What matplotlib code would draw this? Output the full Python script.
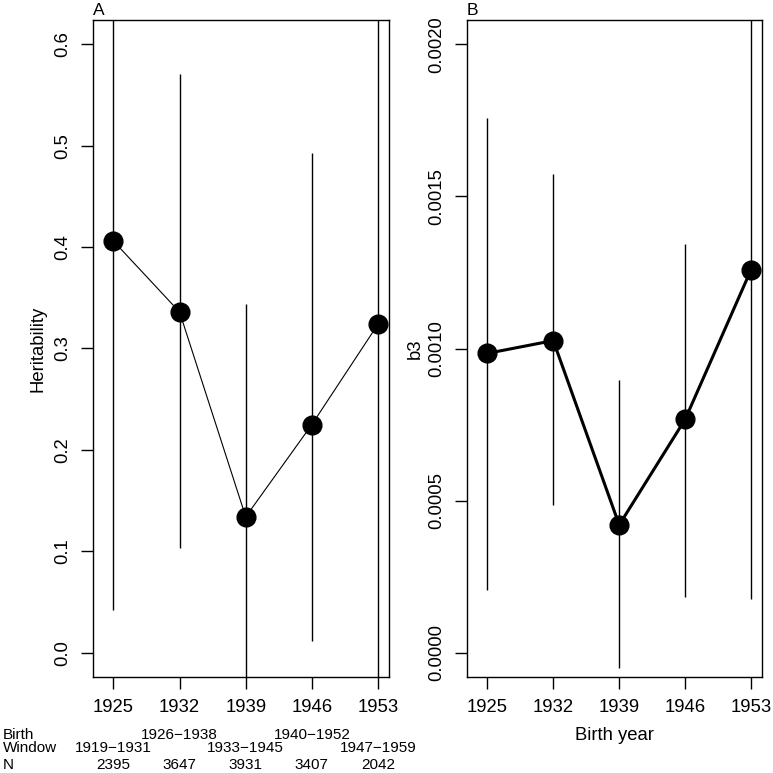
import matplotlib
matplotlib.use("Agg")
import matplotlib.pyplot as plt
from matplotlib.transforms import blended_transform_factory

plt.rcParams['font.family'] = ['Liberation Sans', 'DejaVu Sans']

years = [1925, 1932, 1939, 1946, 1953]
year_labels = ["1925", "1932", "1939", "1946", "1953"]

herit = [0.406, 0.336, 0.134, 0.225, 0.324]
herit_lo = [0.042, 0.103, -0.10, 0.012, -0.10]
herit_hi = [0.70, 0.571, 0.344, 0.493, 0.70]

b3 = [0.000984, 0.001026, 0.000420, 0.000767, 0.001259]
b3_lo = [0.000207, 0.000485, -0.000049, 0.000184, 0.000177]
b3_hi = [0.001757, 0.001574, 0.000895, 0.001344, 0.0025]

windows = ["1919\u22121931", "1926\u22121938", "1933\u22121945", "1940\u22121952", "1947\u22121959"]
counts = ["2395", "3647", "3931", "3407", "2042"]

W = 773
fig = plt.figure(figsize=(7.73, 7.73), dpi=100)
axA = fig.add_axes([93 / W, 96 / W, 296 / W, 657 / W])
axB = fig.add_axes([467 / W, 96 / W, 295 / W, 657 / W])

def style(ax):
    for s in ax.spines.values():
        s.set_linewidth(1.0)
    ax.tick_params(axis='both', length=8.6, width=1.0, labelsize=13.3, direction='out')
    ax.tick_params(axis='x', pad=7)
    ax.tick_params(axis='y', pad=7, labelrotation=90)
    for lab in ax.get_yticklabels():
        lab.set_va('center')
    ax.set_xticks(years)
    ax.set_xticklabels(year_labels)
    ax.set_xlim(1922.84, 1954.16)

# Panel A
axA.vlines(years, herit_lo, herit_hi, colors='black', linewidth=1.0, zorder=1)
axA.plot(years, herit, color='black', linewidth=0.8, zorder=2)
axA.plot(years, herit, 'o', color='black', markersize=13.5, zorder=3)
axA.set_ylim(-0.024, 0.624)
axA.set_yticks([0.0, 0.1, 0.2, 0.3, 0.4, 0.5, 0.6])
axA.set_yticklabels(["0.0", "0.1", "0.2", "0.3", "0.4", "0.5", "0.6"])
style(axA)
axA.set_ylabel("Heritability", fontsize=13.3, va='center')
axA.yaxis.set_label_coords(-55 / 296, 0.5)
axA.text(0, 1.003, "A", transform=axA.transAxes, ha='left', va='bottom', fontsize=12.5)

# Panel B
axB.vlines(years, b3_lo, b3_hi, colors='black', linewidth=1.0, zorder=1)
axB.plot(years, b3, color='black', linewidth=2.2, zorder=2)
axB.plot(years, b3, 'o', color='black', markersize=13.5, zorder=3)
axB.set_ylim(-0.00008, 0.00208)
axB.set_yticks([0.0, 0.0005, 0.0010, 0.0015, 0.0020])
axB.set_yticklabels(["0.0000", "0.0005", "0.0010", "0.0015", "0.0020"])
style(axB)
axB.set_ylabel("b3", fontsize=13.3, va='center')
axB.yaxis.set_label_coords(-52 / 295, 0.5)
axB.set_xlabel("Birth year", fontsize=13.3)
axB.xaxis.set_label_coords(0.5, -(735 - 677) / 657)
axB.xaxis.label.set_va('center')
axB.text(0, 1.003, "B", transform=axB.transAxes, ha='left', va='bottom', fontsize=12.5)

# Table beneath panel A
tr = blended_transform_factory(axA.transData, fig.transFigure)
ys = {"Birth": 1 - 739 / W, "Window": 1 - 752 / W, "N": 1 - 769 / W}
tfs = 11
fig.text(3 / W, ys["Birth"], "Birth", ha='left', va='baseline', fontsize=tfs)
fig.text(3 / W, ys["Window"], "Window", ha='left', va='baseline', fontsize=tfs)
fig.text(3 / W, ys["N"], "N", ha='left', va='baseline', fontsize=tfs)
for i, (yr, w, n) in enumerate(zip(years, windows, counts)):
    yrow = ys["Window"] if i % 2 == 0 else ys["Birth"]
    axA.text(yr, yrow, w, transform=tr, ha='center', va='baseline', fontsize=tfs, clip_on=False)
    axA.text(yr, ys["N"], n, transform=tr, ha='center', va='baseline', fontsize=tfs, clip_on=False)

fig.savefig("out.png", dpi=100)
